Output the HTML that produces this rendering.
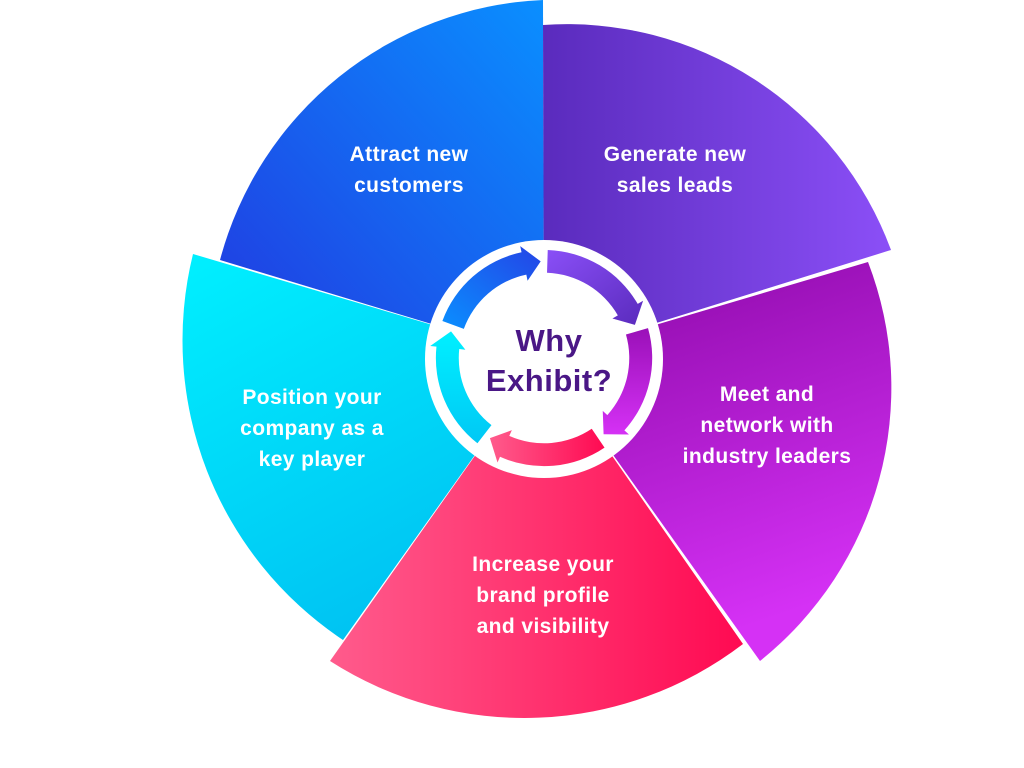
<!DOCTYPE html>
<html><head><meta charset="utf-8"><style>
html,body{margin:0;padding:0;background:#fff;width:1024px;height:768px;overflow:hidden}
svg{display:block}
.t{font-family:"Liberation Sans",sans-serif;font-weight:bold;fill:#fff;font-size:21px;letter-spacing:0.4px;text-anchor:middle}
.c{font-family:"Liberation Sans",sans-serif;font-weight:bold;fill:#4a1786;font-size:31px;letter-spacing:0.5px;text-anchor:middle}
</style></head><body>
<svg width="1024" height="768" viewBox="0 0 1024 768">
<defs>
<linearGradient id="gb" x1="1" y1="0" x2="0" y2="1"><stop offset="0" stop-color="#0a8fff"/><stop offset="1" stop-color="#2238e0"/></linearGradient>
<linearGradient id="gp" x1="0" y1="0" x2="1" y2="0"><stop offset="0" stop-color="#5a2bbd"/><stop offset="1" stop-color="#8b4ff7"/></linearGradient>
<linearGradient id="gm" x1="0" y1="0" x2="0.3" y2="1"><stop offset="0" stop-color="#8a08a6"/><stop offset="1" stop-color="#d531f5"/></linearGradient>
<linearGradient id="gk" x1="0" y1="0" x2="1" y2="0"><stop offset="0" stop-color="#ff5b8c"/><stop offset="1" stop-color="#ff0a52"/></linearGradient>
<linearGradient id="gc" x1="0" y1="0" x2="0.5" y2="1"><stop offset="0" stop-color="#00f0ff"/><stop offset="1" stop-color="#00c2f2"/></linearGradient>
<linearGradient id="ab" x1="0" y1="1" x2="1" y2="0"><stop offset="0" stop-color="#0a8fff"/><stop offset="1" stop-color="#2444e6"/></linearGradient>
<linearGradient id="ap" x1="0" y1="0" x2="1" y2="1"><stop offset="0" stop-color="#8a4ff7"/><stop offset="1" stop-color="#5a2bbd"/></linearGradient>
<linearGradient id="am" x1="0" y1="0" x2="0" y2="1"><stop offset="0" stop-color="#9a10b8"/><stop offset="1" stop-color="#d531f5"/></linearGradient>
<linearGradient id="ak" x1="0" y1="0" x2="1" y2="0"><stop offset="0" stop-color="#ff5b8c"/><stop offset="1" stop-color="#ff0a52"/></linearGradient>
<linearGradient id="ac" x1="0" y1="0" x2="0" y2="1"><stop offset="0" stop-color="#00f0ff"/><stop offset="1" stop-color="#00c8f5"/></linearGradient>
</defs>
<path d="M544,358 L868,262 A350,350 0 0 1 760,661 Z" fill="url(#gm)"/>
<path d="M544,358 L743,644 A360,360 0 0 1 330,661 Z" fill="url(#gk)"/>
<path d="M544,358 L343,640 A360,360 0 0 1 193,254 Z" fill="url(#gc)"/>
<path d="M544,358 L220,260 A350,350 0 0 1 543,0 Z" fill="url(#gb)"/>
<path d="M544,358 L543,25 A345,345 0 0 1 891,250 Z" fill="url(#gp)"/>
<circle cx="544" cy="359" r="119" fill="#fff"/>
<g transform="translate(544,358) scale(1.04) translate(-544,-358)">
<path d="M446.3,322.4 A104,104 0 0 1 522.4,256.3 L521.1,250.4 L540.8,265.1 L528.2,283.7 L527,277.8 A82,82 0 0 0 466.9,330 Z" fill="url(#ab)"/>
<path d="M547.6,254.1 A104,104 0 0 1 634.1,306 L639.3,303 L631.4,326.2 L609.8,320 L615,317 A82,82 0 0 0 546.9,276 Z" fill="url(#ap)"/>
<path d="M644,329.3 A104,104 0 0 1 621.3,427.6 L625.7,431.6 L601.3,431.3 L600.5,408.9 L604.9,412.9 A82,82 0 0 0 622.8,335.4 Z" fill="url(#am)"/>
<path d="M602.2,444.2 A104,104 0 0 1 501.7,453 L499.3,458.5 L492,435.1 L513.1,427.4 L510.6,432.9 A82,82 0 0 0 589.9,426 Z" fill="url(#ak)"/>
<path d="M480,440 A104,104 0 0 1 440.6,347.1 L434.6,346.5 L454.6,332.4 L468.4,350.1 L462.5,349.4 A82,82 0 0 0 493.5,422.6 Z" fill="url(#ac)"/>
</g>
<text class="c" x="549" y="351">Why</text>
<text class="c" x="549" y="391">Exhibit?</text>
<text class="t" x="409" y="161">Attract new</text>
<text class="t" x="409" y="192">customers</text>
<text class="t" x="675" y="161">Generate new</text>
<text class="t" x="675" y="192">sales leads</text>
<text class="t" x="767" y="401">Meet and</text>
<text class="t" x="767" y="432">network with</text>
<text class="t" x="767" y="463">industry leaders</text>
<text class="t" x="312" y="404">Position your</text>
<text class="t" x="312" y="435">company as a</text>
<text class="t" x="312" y="466">key player</text>
<text class="t" x="543" y="571">Increase your</text>
<text class="t" x="543" y="602">brand profile</text>
<text class="t" x="543" y="633">and visibility</text>
</svg>
</body></html>
